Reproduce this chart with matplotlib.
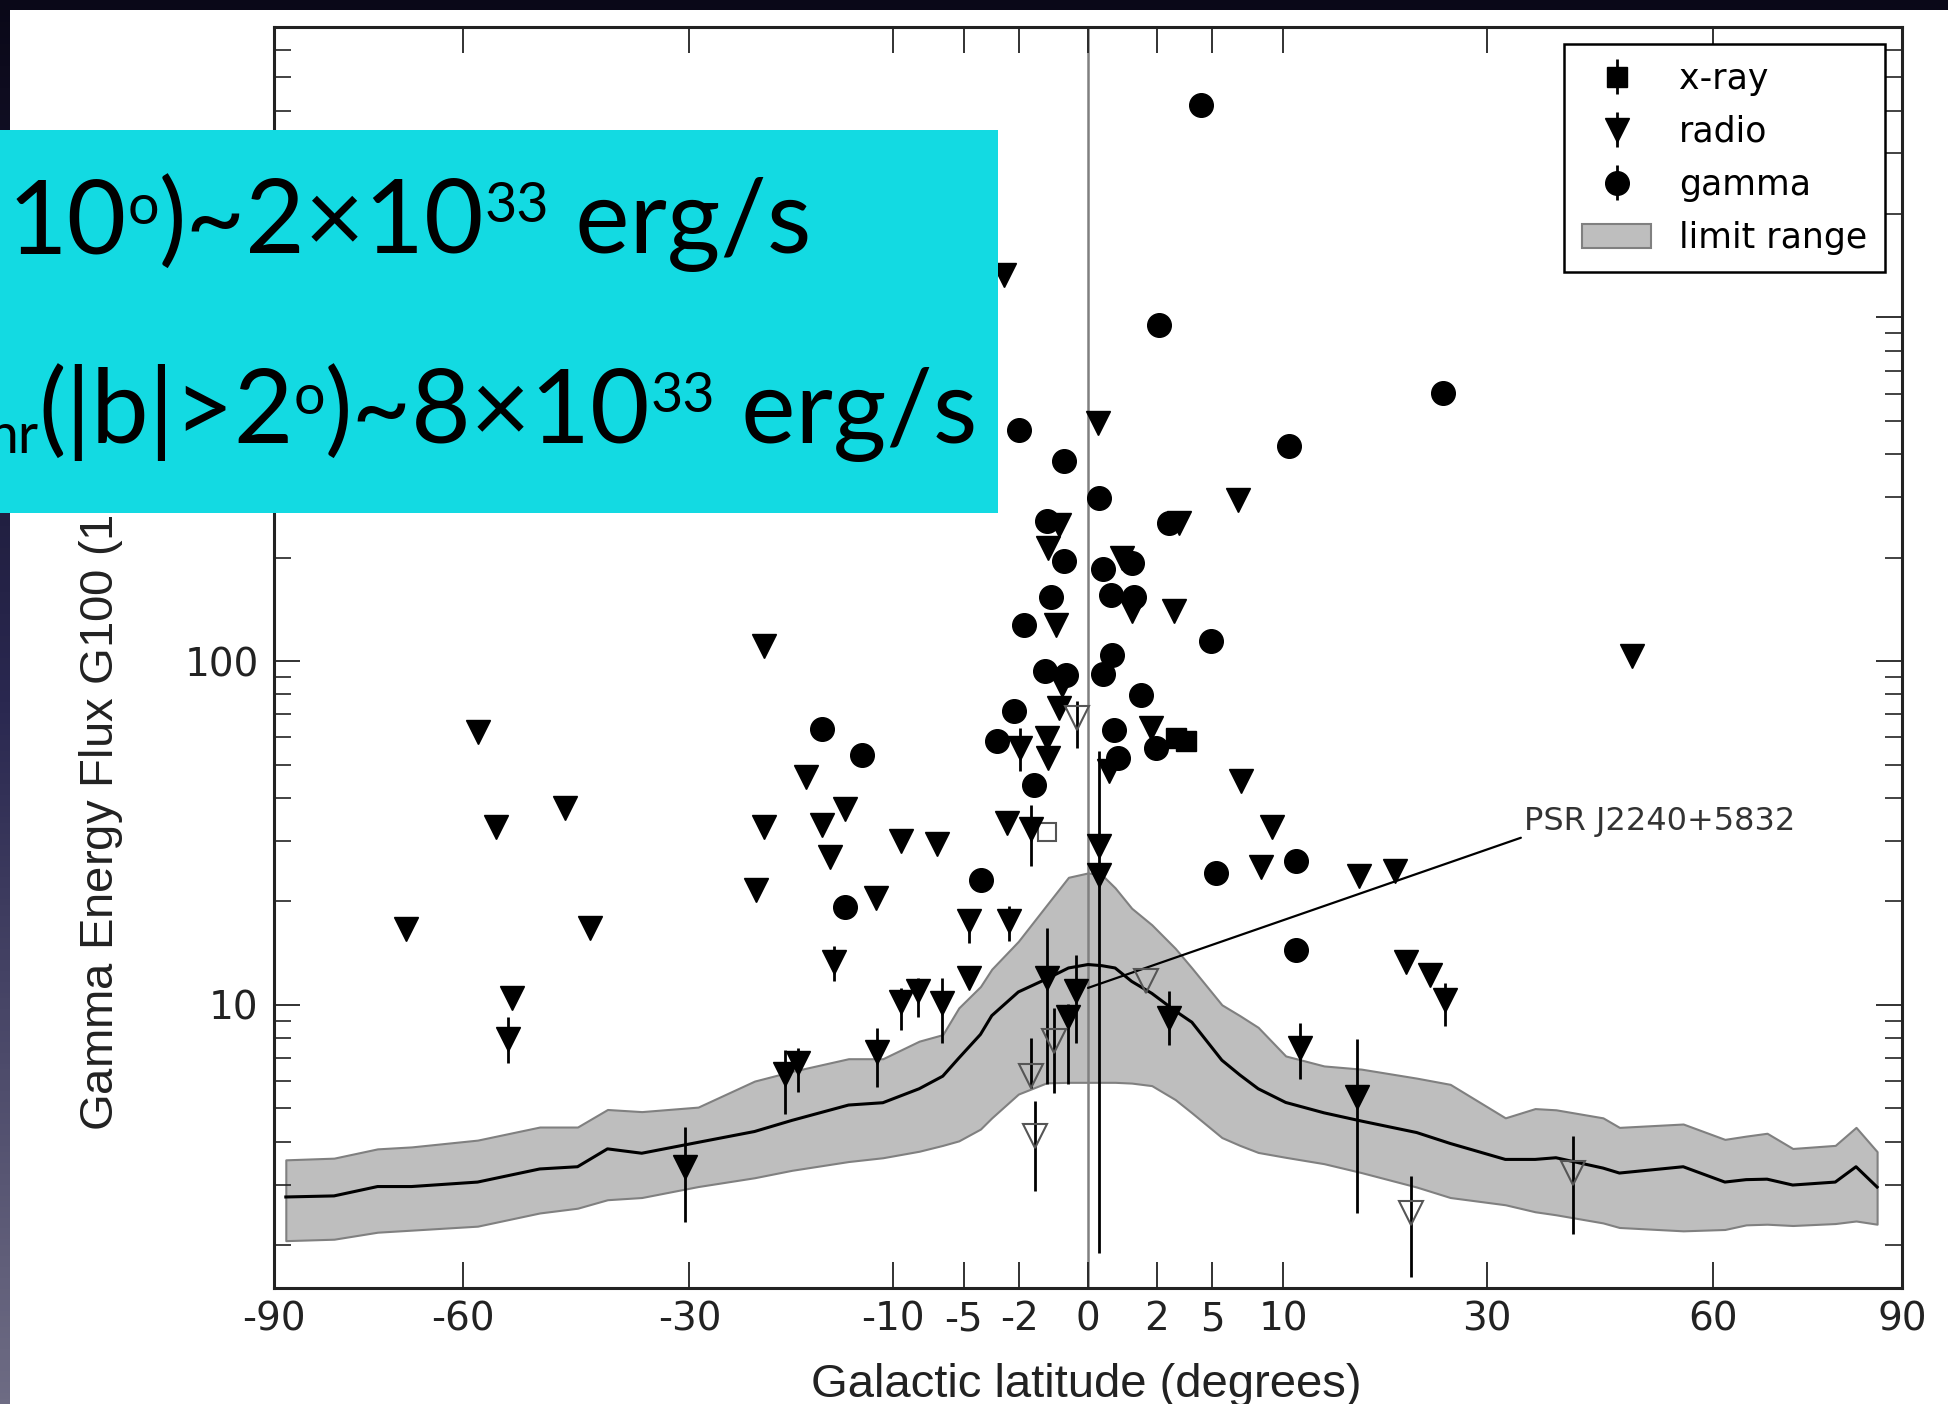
import numpy as np
import matplotlib
matplotlib.use("Agg")
import matplotlib.pyplot as plt
from matplotlib.patches import Rectangle
from matplotlib.colors import LinearSegmentedColormap
from matplotlib.ticker import NullFormatter, NullLocator

plt.rcParams['axes.unicode_minus'] = False
plt.rcParams['font.family'] = 'DejaVu Sans'

# ---- data (b in degrees, flux in 1e-12 erg/cm2/s) ----
band_b = [-88, -80, -73, -67.7, -57.8, -49, -43.9, -40, -35.7, -29, -22.8, -19, -13.7, -10.8, -8,
          -6.35, -5.3, -4.0, -3.37, -2.05, -0.92, -0.29, 0, 0.17, 0.48, 1.0, 1.79, 2.9, 3.79, 5.6,
          6.8, 8.1, 10.2, 13.4, 16.8, 22.3, 25.9, 32.2, 35.8, 38.4, 44.5, 46.7, 55.6, 61.7, 64.9,
          68.1, 72.1, 78.9, 82.3, 85.8]
band_hi = [3.54, 3.58, 3.81, 3.86, 4.04, 4.41, 4.41, 4.96, 4.89, 5.04, 6.0, 6.4, 6.97, 6.97, 7.84,
           8.19, 9.8, 11.3, 12.7, 15.3, 19.5, 23.5, 24.2, 23.9, 21.9, 19.1, 17.1, 14.6, 12.8, 10.0,
           9.3, 8.6, 7.1, 6.64, 6.5, 6.12, 5.87, 4.69, 4.99, 4.95, 4.69, 4.40, 4.50, 4.06, 4.15,
           4.23, 3.82, 3.90, 4.40, 3.74]
band_mid = [2.76, 2.78, 2.96, 2.96, 3.05, 3.33, 3.38, 3.81, 3.70, 3.98, 4.28, 4.61, 5.11, 5.19, 5.7,
            6.2, 7.0, 8.2, 9.3, 10.9, 11.9, 12.8, 13.1, 13.0, 12.8, 11.7, 10.8, 9.6, 8.9, 6.9,
            6.25, 5.7, 5.2, 4.85, 4.59, 4.25, 3.95, 3.55, 3.55, 3.59, 3.35, 3.24, 3.38, 3.05, 3.10,
            3.11, 2.99, 3.05, 3.38, 2.95]
band_lo = [2.06, 2.08, 2.18, 2.21, 2.27, 2.48, 2.56, 2.71, 2.75, 2.96, 3.14, 3.3, 3.5, 3.59, 3.75,
           3.9, 4.02, 4.35, 4.69, 5.5, 5.93, 5.95, 5.95, 5.95, 5.95, 5.92, 5.82, 5.3, 4.85, 4.11,
           3.9, 3.72, 3.6, 3.45, 3.25, 2.95, 2.75, 2.62, 2.50, 2.45, 2.32, 2.25, 2.20, 2.22, 2.29,
           2.30, 2.28, 2.31, 2.35, 2.30]

# radio pulsars without visible error bars
radio_b = [-68.6, -57.8, -55.2, -45.6, -42.2, -52.9, -21.8, -21.8, -22.7, -17.6, -14.0, -16.1, -15.4,
           -11.4, -9.33, -6.72, -0.53, -0.88, 0.69, 1.02, 2.84, -0.61, -0.45, -0.53, 1.75, 3.09, 6.7,
           -2.75, 0.11, -0.92, -0.88, -2.57, -4.68, 0.12, 0.32, 6.87, 8.3, 9.14, 16.6, 20.1, 21.2,
           23.7, 48.4]
radio_f = [16.6, 62.0, 33.0, 37.3, 16.7, 10.5, 111, 33.0, 21.6, 45.9, 37.1, 33.4, 27.0,
           20.4, 29.9, 29.3, 249, 213, 199, 139.5, 139.5, 127.6, 85.4, 73.0, 63.9, 252, 294,
           1328, 492, 59.7, 52.2, 33.8, 12.0, 28.9, 47.8, 44.7, 25.2, 32.9, 23.7, 24.5, 13.3,
           12.2, 103.5]

# radio pulsars with error bars
radio_e_b = [-53.5, -15.0, -9.33, -8.06, -6.42, -11.3, -19.7, -18.4, -30.5, -1.52, -4.68, -2.49,
             -0.90, -0.14, -0.30, 0.12, 2.59, 25.3, 11.4, 16.4, -1.97]
radio_e_f = [7.95, 13.3, 10.2, 11.0, 10.1, 7.28, 6.28, 6.76, 3.38, 32.4, 17.5, 17.5,
             12.0, 11.0, 9.2, 23.9, 9.16, 10.3, 7.51, 5.41, 55.9]
radio_e_lo = [1.18, 1.6, 1.76, 1.8, 2.36, 1.51, 1.47, 1.19, 1.04, 7.1, 2.4, 2.2,
              6.1, 3.25, 3.3, 22.0, 1.5, 1.63, 1.42, 2.93, 8.1]
radio_e_hi = [1.25, 1.5, 1.0, 1.0, 1.9, 1.27, 1.10, 0.72, 1.03, 5.8, 1.2, 1.9,
              4.7, 3.0, 0.85, 30.7, 1.84, 1.3, 1.34, 2.57, 8.0]

# hollow (upper-limit style) triangles
open_b = [-0.115, 1.54, -0.68, -1.52, -1.35, 21.7, 40.6]
open_f = [68.2, 11.7, 7.84, 6.21, 4.15, 2.48, 3.24]
open_lo = [12.4, 0, 2.29, 0.47, 1.28, 0.86, 1.09]
open_hi = [8.2, 0, 1.96, 1.8, 1.1, 0.7, 0.9]

osq_b = [-0.91]
osq_f = [31.8]

xray_b = [2.93, 3.45]
xray_f = [59.7, 58.4]

gamma_b = [4.33, 2.10, 25.1, -2.01, 10.5, -0.40, 0.12, 2.59, -0.90, -0.40, 0.19, 1.02, 0.37, 1.07,
           -0.79, 4.91, -1.80, 0.41, 0.19, -0.98, -0.34, 1.34, -2.25, 0.45, -3.08, 1.96, -16.1,
           -12.5, -14.0, -3.99, 5.22, 11.0, 11.0, -1.39, 0.55]
gamma_f = [4145, 950, 603, 471, 422, 381, 298, 252, 255, 195, 186, 193, 156, 154,
           154, 114.6, 127.6, 104.4, 91.7, 93.3, 91.3, 79.8, 71.7, 63.2, 58.4, 55.9, 63.5,
           53.2, 19.2, 23.1, 24.2, 26.2, 14.4, 43.7, 52.1]

xticks = [-90, -60, -30, -10, -5, -2, 0, 2, 5, 10, 30, 60, 90]
xtick_labels = ['-90', '-60', '-30', '-10', '-5', '-2', '0', '2', '5', '10', '30', '60', '90']
yticks = [10, 100, 1000]
ytick_labels = ['10', '100', '1000']

W, H = 1948, 1404


def fwd(b):
    b = np.asarray(b, dtype=float)
    return np.sign(b) * np.abs(b) ** 0.65


def inv(u):
    u = np.asarray(u, dtype=float)
    return np.sign(u) * np.abs(u) ** (1 / 0.65)


fig = plt.figure(figsize=(W / 100, H / 100), dpi=100)
fig.patch.set_facecolor('white')
ax = fig.add_axes([274 / W, 1 - 1288 / H, (1902 - 274) / W, (1288 - 27) / H])
ax.set_xscale('function', functions=(fwd, inv))
ax.set_yscale('log')
ax.set_xlim(-90, 90)
ax.set_ylim(1.5, 7000)

band = ax.fill_between(band_b, band_lo, band_hi, facecolor='#bebebe', edgecolor='#808080',
                       lw=1.5, zorder=1)
ax.plot(band_b, band_mid, color='black', lw=2.2, zorder=2)
ax.axvline(0, color='#808080', lw=1.8, zorder=1.5)

ek = dict(color='black', ecolor='black', elinewidth=2, capsize=0, zorder=4)
h_x = ax.errorbar(xray_b, xray_f, yerr=np.zeros(len(xray_b)), fmt='s', ms=15, **ek)
h_r = ax.errorbar(radio_e_b, radio_e_f, yerr=[radio_e_lo, radio_e_hi], fmt='v', ms=17, **ek)
ax.plot(radio_b, radio_f, 'v', ms=17, color='black', zorder=4)
h_g = ax.errorbar(gamma_b, gamma_f, yerr=np.zeros(len(gamma_b)), fmt='o', ms=17, **ek)
ax.errorbar(open_b, open_f, yerr=[open_lo, open_hi], fmt='v', ms=17, mfc='none', mec='#555555',
            mew=1.5, ecolor='black', elinewidth=2, capsize=0, zorder=4)
ax.plot(osq_b, osq_f, 's', ms=13, mfc='white', mec='#555555', mew=1.5, zorder=3.5)

ax.annotate('PSR J2240+5832', xy=(0.0, 11.2), xytext=(34.4, 34.2), fontsize=23,
            ha='left', va='center', color='#333333',
            arrowprops=dict(arrowstyle='-', color='black', lw=1.6, shrinkA=0, shrinkB=0,
                            relpos=(0, 0)))

ax.set_xticks(xticks)
ax.set_xticklabels(xtick_labels)
ax.xaxis.set_minor_locator(NullLocator())
ax.set_yticks(yticks)
ax.set_yticklabels(ytick_labels)
ax.yaxis.set_minor_formatter(NullFormatter())
ax.tick_params(which='both', direction='in', top=True, right=True, labelsize=28, colors='#222222')
ax.tick_params(which='major', length=19, width=1.3)
ax.tick_params(which='minor', length=12, width=1.2)
ax.tick_params(axis='x', pad=9)
ax.tick_params(axis='y', pad=11)
for s in ax.spines.values():
    s.set_linewidth(2.2)
    s.set_color('#222222')

leg = ax.legend([h_x, h_r, h_g, band], ['x-ray', 'radio', 'gamma', 'limit range'],
                loc='upper right', fontsize=25, fancybox=False, edgecolor='black', framealpha=1,
                borderaxespad=0.5, numpoints=1, handlelength=2.0, handletextpad=0.8,
                labelspacing=0.55, borderpad=0.5)
leg.get_frame().set_linewidth(1.8)

lab_font = ['Liberation Sans Narrow', 'Liberation Sans']
fig.text(1086 / W, 7 / H, 'Galactic latitude (degrees)', family=lab_font, fontsize=34,
         ha='center', va='baseline', color='#222222')
fig.text(98 / W, (H - 1131) / H, 'Gamma Energy Flux G100 (10$^{-12}$ erg/cm$^2$/s)',
         family=lab_font, fontsize=34, rotation=90, ha='center', va='bottom', color='#222222')

# slide frame: dark top bar and gradient left bar
fig.patches.append(Rectangle((0, 1 - 10 / H), 1, 10 / H, transform=fig.transFigure,
                             facecolor='#0a0818', edgecolor='none', zorder=8))
sax = fig.add_axes([0, 0, 10 / W, 1])
sax.set_zorder(8)
cm = LinearSegmentedColormap.from_list('edge', ['#0a0818', '#2a2850', '#6e6c84'])
sax.imshow(np.linspace(0, 1, 256).reshape(-1, 1), aspect='auto', cmap=cm)
sax.axis('off')

# cyan overlay box with text
fig.patches.append(Rectangle((0, 1 - 513 / H), 998 / W, 383 / H, transform=fig.transFigure,
                             facecolor='#13dae2', edgecolor='none', zorder=10))

renderer = fig.canvas.get_renderer()
big, small = 74, 40


def rich_line(x_px, base_px, parts, first_right=False):
    x = x_px
    for i, (s, size, dy) in enumerate(parts):
        ha = 'right' if (first_right and i == 0) else 'left'
        t = fig.text(x / W, (H - base_px + dy) / H, s, family='Lato', fontsize=size,
                     ha=ha, va='baseline', color='black', zorder=11)
        x = t.get_window_extent(renderer).x1


rich_line(8, 253, [('10', big, 0), ('o', small, 29), (')~2\u00d710', big, 0),
                   ('33', small, 31), (' erg/s', big, 0)])
rich_line(38, 443, [('hr', small, -10), ('(|b|>2', big, 0), ('o', small, 29),
                    (')~8\u00d710', big, 0), ('33', small, 31), (' erg/s', big, 0)],
          first_right=True)

fig.savefig('out.png', dpi=100)
